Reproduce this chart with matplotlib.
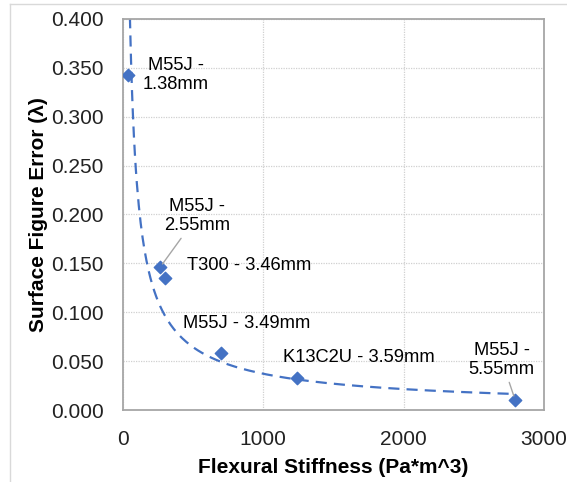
import numpy as np
import matplotlib.pyplot as plt
from matplotlib.lines import Line2D

# values
stiffness = [36, 264, 299, 696, 1240, 2796]
surface_error = [0.343, 0.146, 0.135, 0.058, 0.033, 0.0105]
point_labels = ['M55J -\n1.38mm', 'M55J -\n2.55mm', 'T300 - 3.46mm',
                'M55J - 3.49mm', 'K13C2U - 3.59mm', 'M55J -\n5.55mm']

x_ticks = [0, 1000, 2000, 3000]
y_ticks = [0.0, 0.05, 0.10, 0.15, 0.20, 0.25, 0.30, 0.35, 0.40]

# label placement (data coords) and whether a leader line is drawn
label_pos = [(378, 0.343), (527, 0.198), (898, 0.148),
             (884, 0.089), (1682, 0.054), (2701, 0.051)]
leader = [False, True, False, False, False, True]

plt.rcParams['font.family'] = ['Liberation Sans', 'DejaVu Sans']
blue = '#4472C4'

fig = plt.figure(figsize=(5.67, 4.82), dpi=100)
ax = fig.add_axes([0.217, 0.149, 0.742, 0.812])

# power trendline, as excel does it
coef = np.polyfit(np.log(stiffness), np.log(surface_error), 1)
xs = np.linspace(min(stiffness), max(stiffness), 400)
ys = np.exp(coef[1]) * xs ** coef[0]
ax.plot(xs, ys, linestyle=(0, (5, 3.2)), color=blue, linewidth=1.6, zorder=2)

ax.scatter(stiffness, surface_error, marker='D', s=40, color=blue, zorder=3)

for i in range(len(point_labels)):
    if leader[i]:
        ax.annotate(point_labels[i], xy=(stiffness[i], surface_error[i]),
                    xytext=label_pos[i], ha='center', va='center', fontsize=13.2,
                    linespacing=1.15,
                    arrowprops=dict(arrowstyle='-', color='#a6a6a6', lw=1,
                                    shrinkA=1, shrinkB=3))
    else:
        ax.text(label_pos[i][0], label_pos[i][1], point_labels[i], ha='center',
                va='center', fontsize=13.2, linespacing=1.15)

ax.set_xlim(0, 3000)
ax.set_ylim(0, 0.4)
ax.set_xticks(x_ticks)
ax.set_yticks(y_ticks)
ax.set_yticklabels(['{:.3f}'.format(v) for v in y_ticks])
ax.tick_params(labelsize=15, length=0, colors='#222222')
ax.tick_params(axis='x', pad=14)
ax.tick_params(axis='y', pad=14)
ax.grid(True, linestyle=(0, (1, 1)), color='#d0d0d0', linewidth=0.9)
ax.set_axisbelow(True)
for sp in ax.spines.values():
    sp.set_color('#a6a6a6')
    sp.set_linewidth(1.3)

ax.set_xlabel('Flexural Stiffness (Pa*m^3)', fontsize=15, fontweight='bold', labelpad=7)
ax.set_ylabel('Surface Figure Error (λ)', fontsize=15, fontweight='bold', labelpad=2)

# light frame of the chart area
fig.add_artist(Line2D([10/567, 10/567], [0, 1 - 4/482], transform=fig.transFigure,
                      color='#d9d9d9', linewidth=1))
fig.add_artist(Line2D([10/567, 1], [1 - 4/482, 1 - 4/482], transform=fig.transFigure,
                      color='#d9d9d9', linewidth=1))

fig.savefig('out.png', dpi=100)
